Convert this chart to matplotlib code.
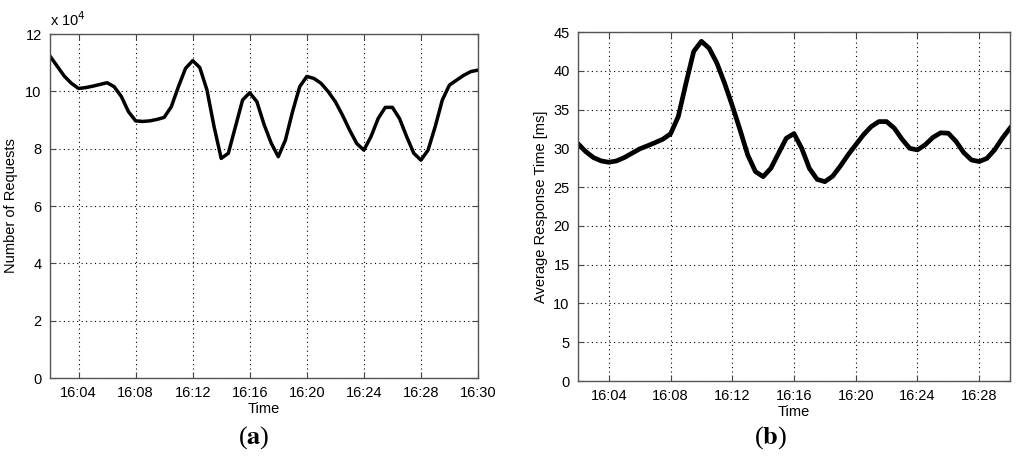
import matplotlib
matplotlib.use("Agg")
import matplotlib.pyplot as plt

plt.rcParams["font.family"] = ["Liberation Sans", "DejaVu Sans"]

# -----------------------------
# Data (minutes after 16:00)
# -----------------------------
minutes_a = [2, 2.5, 3, 3.5, 4, 4.5, 5, 5.5, 6, 6.5, 7, 7.5, 8, 8.5, 9, 9.5,
             10, 10.5, 11, 11.5, 12, 12.5, 13, 13.5, 14, 14.5, 15, 15.5, 16,
             16.5, 17, 17.5, 18, 18.5, 19, 19.5, 20, 20.5, 21, 21.5, 22, 22.5,
             23, 23.5, 24, 24.5, 25, 25.5, 26, 26.5, 27, 27.5, 28, 28.5, 29,
             29.5, 30, 30.5, 31, 31.5, 32]
requests = [11.23, 10.88, 10.53, 10.28, 10.10, 10.13, 10.18, 10.24, 10.30,
            10.16, 9.82, 9.29, 8.97, 8.95, 8.97, 9.02, 9.09, 9.46, 10.16,
            10.80, 11.07, 10.83, 10.05, 8.77, 7.66, 7.84, 8.77, 9.70, 9.95,
            9.64, 8.85, 8.20, 7.72, 8.30, 9.29, 10.16, 10.52, 10.45, 10.28,
            9.99, 9.64, 9.17, 8.65, 8.18, 7.95, 8.42, 9.05, 9.44, 9.44, 9.05,
            8.42, 7.84, 7.60, 7.95, 8.77, 9.70, 10.22, 10.39, 10.56, 10.69,
            10.74]  # x 10^4

minutes_b = [2, 2.5, 3, 3.5, 4, 4.5, 5, 5.5, 6, 6.5, 7, 7.5, 8, 8.5, 9, 9.5,
             10, 10.5, 11, 11.5, 12, 12.5, 13, 13.5, 14, 14.5, 15, 15.5, 16,
             16.5, 17, 17.5, 18, 18.5, 19, 19.5, 20, 20.5, 21, 21.5, 22, 22.5,
             23, 23.5, 24, 24.5, 25, 25.5, 26, 26.5, 27, 27.5, 28, 28.5, 29,
             29.5, 30]
response_ms = [30.6, 29.58, 28.81, 28.38, 28.2, 28.38, 28.81, 29.37, 29.93,
               30.32, 30.74, 31.18, 31.87, 34.1, 38.4, 42.5, 43.8, 42.9, 41.0,
               38.4, 35.5, 32.4, 29.15, 27.0, 26.35, 27.43, 29.37, 31.3, 31.9,
               30.0, 27.4, 26.0, 25.7, 26.4, 27.7, 29.15, 30.45, 31.74, 32.8,
               33.45, 33.45, 32.6, 31.18, 30.0, 29.8, 30.45, 31.4, 32.0, 31.95,
               30.9, 29.45, 28.5, 28.3, 28.7, 29.8, 31.3, 32.6]

ticks_a = [4, 8, 12, 16, 20, 24, 28, 32]
labels_a = ["16:04", "16:08", "16:12", "16:16", "16:20", "16:24", "16:28", "16:30"]
ticks_b = [4, 8, 12, 16, 20, 24, 28]
labels_b = ["16:04", "16:08", "16:12", "16:16", "16:20", "16:24", "16:28"]

fig = plt.figure(figsize=(10.24, 4.65), dpi=100)
ax1 = fig.add_axes([50 / 1024, 87 / 465, 428 / 1024, 344 / 465])
ax2 = fig.add_axes([578 / 1024, 84 / 465, 432 / 1024, 349 / 465])


def style(ax):
    ax.grid(True, linestyle=(0, (1, 3)), color="black", linewidth=0.8)
    ax.tick_params(direction="in", length=4, labelsize=10.5, color="#444444",
                   top=True, right=True, pad=6)
    for s in ax.spines.values():
        s.set_color("#555555")
        s.set_linewidth(1.0)
    ax.set_xlabel("Time", fontsize=10.5, labelpad=1)


# -----------------------------
# (a) Number of requests
# -----------------------------
ax1.plot(minutes_a, requests, color="black", linewidth=2.5,
         solid_joinstyle="round")
ax1.set_xlim(2, 32)
ax1.set_ylim(0, 12)
ax1.set_xticks(ticks_a)
ax1.set_xticklabels(labels_a)
ax1.set_yticks([0, 2, 4, 6, 8, 10, 12])
style(ax1)
ax1.set_ylabel("Number of Requests", fontsize=10.5)
ax1.yaxis.set_label_coords(-0.075, 0.5)
ax1.text(0.0, 1.015, r"x 10$^{4}$", transform=ax1.transAxes, fontsize=10.5,
         ha="left", va="bottom")

# -----------------------------
# (b) Average response time
# -----------------------------
ax2.plot(minutes_b, response_ms, color="black", linewidth=3.4,
         solid_joinstyle="round")
ax2.set_xlim(2, 30)
ax2.set_ylim(0, 45)
ax2.set_xticks(ticks_b)
ax2.set_xticklabels(labels_b)
ax2.set_yticks(range(0, 50, 5))
style(ax2)
ax2.set_ylabel("Average Response Time [ms]", fontsize=10.5, labelpad=4)

fig.text(254 / 1024, 1 - 438 / 465, r"($\mathbf{a}$)", fontsize=19,
         family="Liberation Serif", math_fontfamily="stix",
         ha="center", va="center")
fig.text(771 / 1024, 1 - 438 / 465, r"($\mathbf{b}$)", fontsize=19,
         family="Liberation Serif", math_fontfamily="stix",
         ha="center", va="center")

fig.savefig("out.png", dpi=100)
